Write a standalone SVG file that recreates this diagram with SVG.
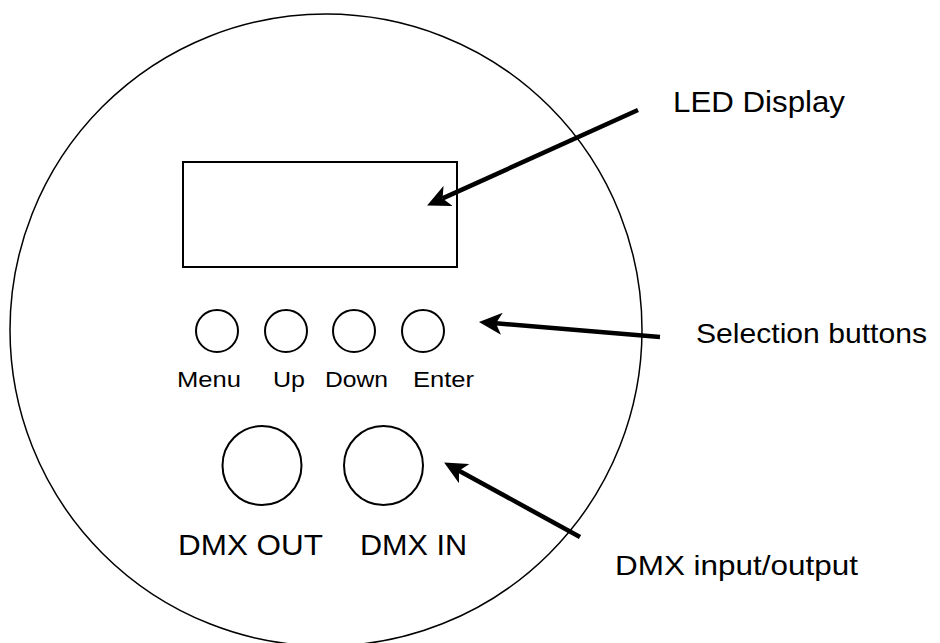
<svg xmlns="http://www.w3.org/2000/svg" width="940" height="643" viewBox="0 0 940 643">
  <style>
    .outline { fill: none; stroke: #000; stroke-width: 1.5; }
    .part { fill: #fff; stroke: #000; stroke-width: 2; }
    .lbl { font-family: "Liberation Sans", Arial, sans-serif; fill: #000; }
    .small { font-size: 22px; }
    .big { font-size: 29px; }
    .arrow { stroke: #000; stroke-width: 4.5; fill: none; marker-end: url(#head); }
  </style>
  <defs>
    <marker id="head" markerUnits="userSpaceOnUse" markerWidth="24" markerHeight="22" viewBox="0 0 24 22" refX="6" refY="11" orient="auto">
      <path d="M0,0 L23,11 L0,22 L6,11 Z" fill="#000"/>
    </marker>
  </defs>
  <rect width="940" height="643" fill="#fff"/>

  <g id="housing">
    <circle class="outline" cx="326" cy="330" r="316"/>
  </g>

  <g id="led-display">
    <rect class="part" x="183" y="162" width="274" height="105"/>
  </g>

  <g id="btn-menu">
    <circle class="part" cx="217" cy="331" r="21"/>
    <text class="lbl small" x="177" y="387" textLength="64" lengthAdjust="spacingAndGlyphs">Menu</text>
  </g>
  <g id="btn-up">
    <circle class="part" cx="286" cy="331" r="21"/>
    <text class="lbl small" x="273" y="387" textLength="32" lengthAdjust="spacingAndGlyphs">Up</text>
  </g>
  <g id="btn-down">
    <circle class="part" cx="354" cy="331" r="21"/>
    <text class="lbl small" x="325" y="387" textLength="63" lengthAdjust="spacingAndGlyphs">Down</text>
  </g>
  <g id="btn-enter">
    <circle class="part" cx="423" cy="331" r="21"/>
    <text class="lbl small" x="413" y="387" textLength="61" lengthAdjust="spacingAndGlyphs">Enter</text>
  </g>

  <g id="dmx-out">
    <circle class="part" cx="262" cy="465.5" r="39.5"/>
    <text class="lbl" font-size="30" x="178" y="555" textLength="145" lengthAdjust="spacingAndGlyphs">DMX OUT</text>
  </g>
  <g id="dmx-in">
    <circle class="part" cx="383.5" cy="465.5" r="39.5"/>
    <text class="lbl" font-size="30" x="360" y="555" textLength="107" lengthAdjust="spacingAndGlyphs">DMX IN</text>
  </g>

  <g id="label-led">
    <text class="lbl big" x="673" y="112" textLength="172" lengthAdjust="spacingAndGlyphs">LED Display</text>
  </g>
  <g id="label-selection">
    <text class="lbl" font-size="28" x="696" y="343" textLength="231" lengthAdjust="spacingAndGlyphs">Selection buttons</text>
  </g>
  <g id="label-dmx">
    <text class="lbl" font-size="28" x="615" y="575" textLength="243" lengthAdjust="spacingAndGlyphs">DMX input/output</text>
  </g>

  <g id="connectors">
    <line class="arrow" x1="638" y1="110" x2="442.6" y2="198.4"/>
    <line class="arrow" x1="660" y1="337" x2="495.9" y2="323.3"/>
    <line class="arrow" x1="580" y1="537" x2="459" y2="470.7"/>
  </g>
</svg>
